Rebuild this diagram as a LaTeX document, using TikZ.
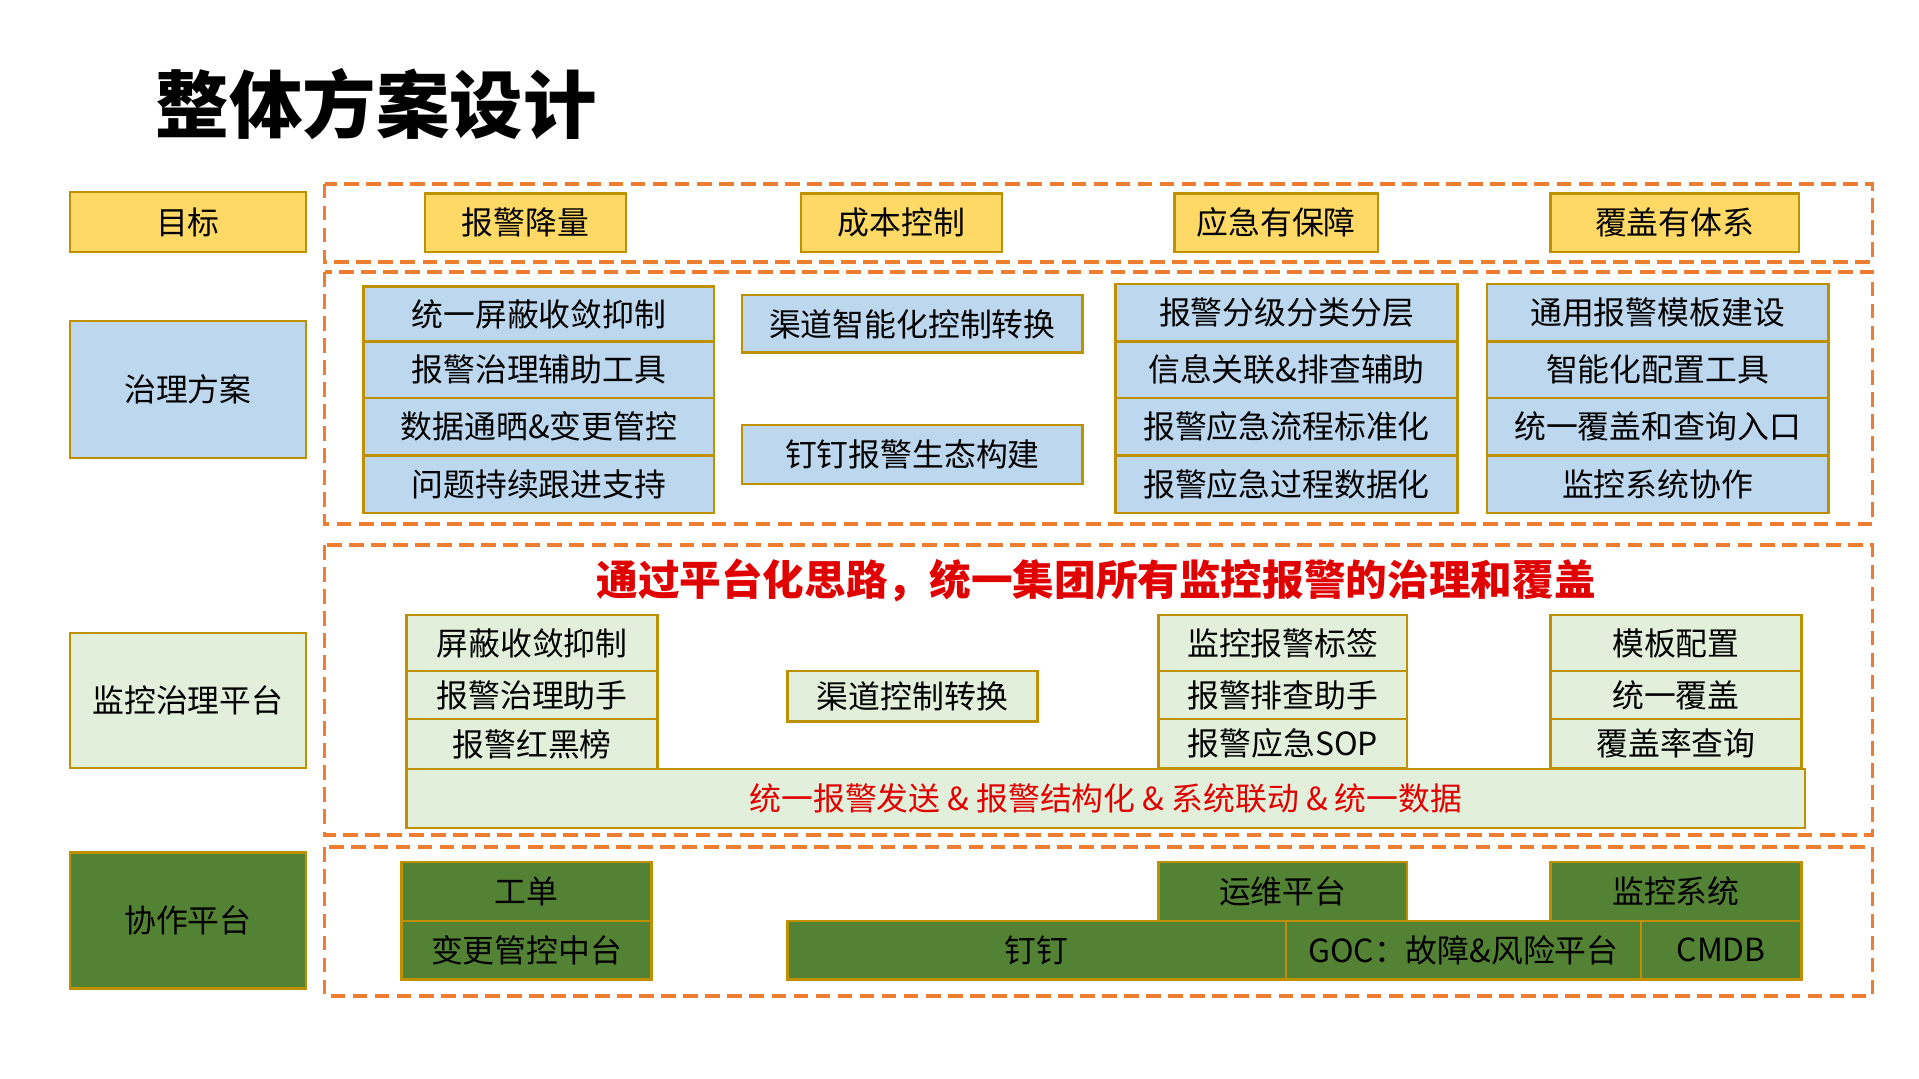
\documentclass[tikz,border=0pt]{standalone}
\usepackage{fontspec}
\setmainfont{Noto Sans CJK SC}
\begin{document}
\begin{tikzpicture}[x=0.5pt,y=-0.5pt,
  bx/.style={draw=gold,line width=1pt,inner sep=0pt,font=\fontsize{13}{15}\selectfont},
  dbox/.style={draw=orangeD,line width=1.6pt,dash pattern=on 6pt off 3pt}]
\definecolor{gold}{HTML}{BF9000}
\definecolor{yel}{HTML}{FFD966}
\definecolor{blu}{HTML}{BDD7EE}
\definecolor{lgr}{HTML}{E2EFDA}
\definecolor{dgr}{HTML}{548235}
\definecolor{orangeD}{HTML}{ED7D31}
\definecolor{redT}{HTML}{E00000}
\newcommand\bx[7]{\node[bx,#6,minimum width={(#4-#2)*0.5pt},minimum height={(#5-#3)*0.5pt}] (#1) at ({(#2+#4)/2},{(#3+#5)/2}) {#7};}
\useasboundingbox (0,0) rectangle (1567,881);
\node[font=\fontsize{30}{34}\selectfont\bfseries,anchor=west] (title) at (120,85) {整体方案设计};
% left labels
\bx{l1}{57}{157}{250}{206}{fill=yel}{目标}
\bx{l2}{57}{262}{250}{374}{fill=blu}{治理方案}
\bx{l3}{57}{517}{250}{627}{fill=lgr}{监控治理平台}
\bx{l4}{57}{696}{250}{807}{fill=dgr}{协作平台}
% dashed frames
\draw[dbox] (265,150) rectangle (1529,214);
\draw[dbox] (265,222) rectangle (1529,428);
\draw[dbox] (265,445) rectangle (1529,682);
\draw[dbox] (265,692) rectangle (1529,813);
% row1
\bx{g1}{347}{158}{511}{206}{fill=yel}{报警降量}
\bx{g2}{654}{158}{818}{206}{fill=yel}{成本控制}
\bx{g3}{959}{158}{1125}{206}{fill=yel}{应急有保障}
\bx{g4}{1266}{158}{1469}{206}{fill=yel}{覆盖有体系}
% row2
\bx{a1}{297}{234}{583}{279}{fill=blu}{统一屏蔽收敛抑制}
\bx{a2}{297}{279}{583}{325}{fill=blu}{报警治理辅助工具}
\bx{a3}{297}{325}{583}{372}{fill=blu}{数据通晒\&变更管控}
\bx{a4}{297}{372}{583}{419}{fill=blu}{问题持续跟进支持}
\bx{b1}{606}{241}{884}{288}{fill=blu}{渠道智能化控制转换}
\bx{b2}{606}{347}{884}{395}{fill=blu}{钉钉报警生态构建}
\bx{c1}{911}{232}{1190}{279}{fill=blu}{报警分级分类分层}
\bx{c2}{911}{279}{1190}{325}{fill=blu}{信息关联\&排查辅助}
\bx{c3}{911}{325}{1190}{372}{fill=blu}{报警应急流程标准化}
\bx{c4}{911}{372}{1190}{419}{fill=blu}{报警应急过程数据化}
\bx{d1}{1214}{232}{1493}{279}{fill=blu}{通用报警模板建设}
\bx{d2}{1214}{279}{1493}{325}{fill=blu}{智能化配置工具}
\bx{d3}{1214}{325}{1493}{372}{fill=blu}{统一覆盖和查询入口}
\bx{d4}{1214}{372}{1493}{419}{fill=blu}{监控系统协作}
% row3
\node[font=\fontsize{17}{20}\selectfont\bfseries,text=redT] (rt) at (895,474) {通过平台化思路，统一集团所有监控报警的治理和覆盖};
\bx{e1}{332}{502}{537}{548}{fill=lgr}{屏蔽收敛抑制}
\bx{e2}{332}{548}{537}{587}{fill=lgr}{报警治理助手}
\bx{e3}{332}{587}{537}{628}{fill=lgr}{报警红黑榜}
\bx{f1}{643}{548}{847}{589}{fill=lgr}{渠道控制转换}
\bx{h1}{946}{502}{1149}{548}{fill=lgr}{监控报警标签}
\bx{h2}{946}{548}{1149}{587}{fill=lgr}{报警排查助手}
\bx{h3}{946}{587}{1149}{627}{fill=lgr}{报警应急SOP}
\bx{k1}{1266}{502}{1471}{548}{fill=lgr}{模板配置}
\bx{k2}{1266}{548}{1471}{587}{fill=lgr}{统一覆盖}
\bx{k3}{1266}{587}{1471}{627}{fill=lgr}{覆盖率查询}
\bx{bar}{332}{628}{1474}{676}{fill=lgr,text=redT}{统一报警发送 \& 报警结构化 \& 系统联动 \& 统一数据}
% row4
\bx{m1}{328}{704}{532}{752}{fill=dgr}{工单}
\bx{m2}{328}{752}{532}{800}{fill=dgr}{变更管控中台}
\bx{m3}{946}{704}{1149}{752}{fill=dgr}{运维平台}
\bx{m4}{1266}{704}{1471}{752}{fill=dgr}{监控系统}
\bx{m5}{643}{752}{1050}{800}{fill=dgr}{钉钉}
\bx{m6}{1050}{752}{1340}{800}{fill=dgr}{GOC：故障\&风险平台}
\bx{m7}{1340}{752}{1471}{800}{fill=dgr}{CMDB}
\end{tikzpicture}
\end{document}
